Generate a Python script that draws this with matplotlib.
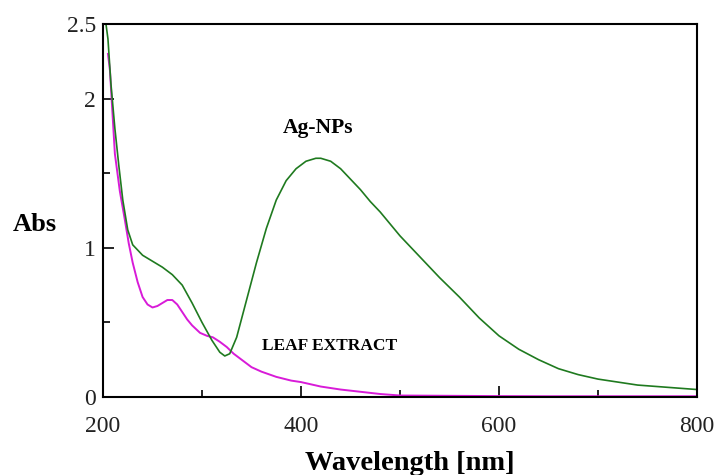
import matplotlib
matplotlib.use("Agg")
import matplotlib.pyplot as plt
from matplotlib.ticker import FixedLocator

plt.rcParams['font.family'] = ['Liberation Serif', 'DejaVu Serif']

# Ag-NPs spectrum (green)
agnp_x = [203, 205, 208, 212, 216, 220, 225, 230, 240, 250, 260, 270, 280, 290, 300, 310,
          318, 323, 328, 335, 345, 355, 365, 375, 385, 395, 405, 415, 420, 430, 440, 450,
          460, 470, 480, 490, 500, 520, 540, 560, 580, 600, 620, 640, 660, 680, 700, 720,
          740, 760, 780, 800]
agnp_y = [2.5, 2.4, 2.1, 1.8, 1.55, 1.32, 1.12, 1.02, 0.95, 0.91, 0.87, 0.82, 0.75, 0.63, 0.50, 0.38,
          0.30, 0.275, 0.29, 0.40, 0.65, 0.90, 1.13, 1.32, 1.45, 1.53, 1.58, 1.60, 1.60, 1.58, 1.53, 1.46,
          1.39, 1.31, 1.24, 1.16, 1.08, 0.94, 0.80, 0.67, 0.53, 0.41, 0.32, 0.25, 0.19, 0.15, 0.12, 0.10,
          0.08, 0.07, 0.06, 0.05]

# Leaf extract spectrum (magenta)
leaf_x = [205, 207, 212, 217, 222, 226, 230, 235, 240, 245, 250, 255, 260, 265, 270, 275, 280,
          285, 290, 298, 305, 311, 318, 325, 332, 340, 350, 360, 375, 390, 400, 420, 440, 460,
          480, 500, 550, 600, 650, 700, 750, 800]
leaf_y = [2.3, 2.19, 1.63, 1.38, 1.19, 1.03, 0.90, 0.77, 0.67, 0.62, 0.60, 0.61, 0.63, 0.65, 0.65, 0.62, 0.57,
          0.52, 0.48, 0.43, 0.41, 0.40, 0.37, 0.335, 0.29, 0.25, 0.20, 0.17, 0.135, 0.11, 0.10, 0.07, 0.05, 0.035,
          0.02, 0.01, 0.008, 0.006, 0.005, 0.005, 0.005, 0.005]

x_major = [200, 400, 600, 800]
x_minor = [300, 500, 700]
y_major = [0, 1, 2, 2.5]
y_labels = ['0', '1', '2', '2.5']
y_minor = [0.5, 1.5]

fig = plt.figure(figsize=(7.17, 4.75), dpi=100)
ax = fig.add_axes([103/717, 1-397/475, (697-103)/717, (397-24)/475])

ax.plot(leaf_x, leaf_y, color='#d81bd8', lw=1.4)
ax.plot(agnp_x, agnp_y, color='#1f7a1f', lw=1.2)

ax.set_xlim(200, 800)
ax.set_ylim(0, 2.5)
ax.set_xticks(x_major)
ax.xaxis.set_minor_locator(FixedLocator(x_minor))
ax.set_yticks(y_major)
ax.set_yticklabels(y_labels)
ax.yaxis.set_minor_locator(FixedLocator(y_minor))
ax.tick_params(which='both', direction='in', labelsize=17, width=1.2, color='black',
               labelcolor='#222222')
ax.tick_params(which='major', length=8)
ax.tick_params(which='minor', length=5)
ax.tick_params(axis='x', which='major', pad=14)
ax.tick_params(axis='y', which='major', pad=5)
for s in ax.spines.values():
    s.set_linewidth(1.5)
    s.set_color('black')

ax.text(417, 1.80, 'Ag-NPs', fontsize=15.5, fontweight='bold', ha='center', va='center')
ax.text(429, 0.34, 'LEAF EXTRACT', fontsize=12.5, fontweight='bold', ha='center', va='center')

fig.text(35/717, 1-225/475, 'Abs', fontsize=19, fontweight='bold', ha='center', va='center')
fig.text(410/717, 1-463/475, 'Wavelength [nm]', fontsize=20.5, fontweight='bold', ha='center', va='center')

fig.savefig('out.png', dpi=100)
